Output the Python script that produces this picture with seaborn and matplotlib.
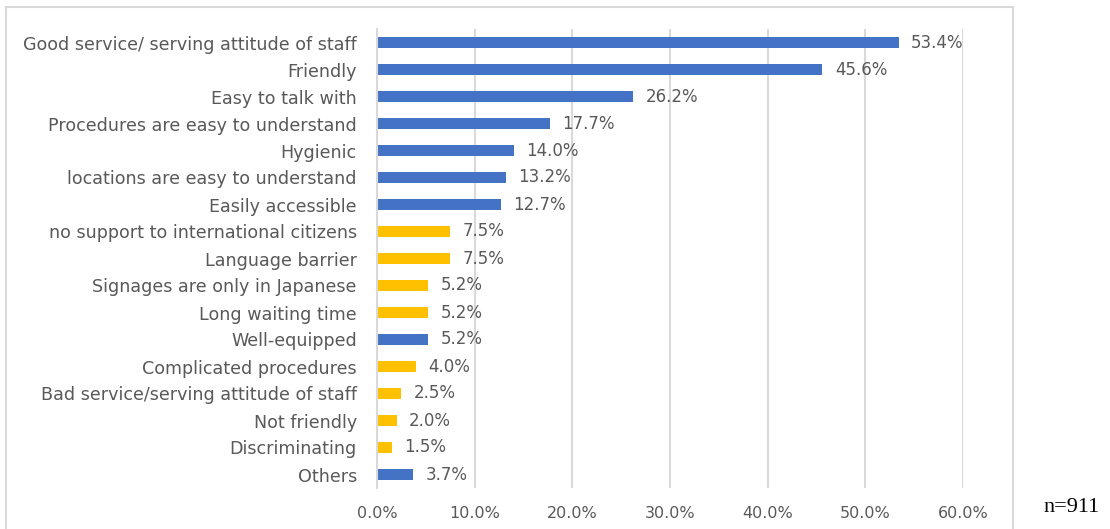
import matplotlib
matplotlib.use("Agg")
import matplotlib.pyplot as plt
import seaborn as sns
import pandas as pd
from matplotlib.patches import Rectangle
from matplotlib.ticker import FuncFormatter

categories = [
    "Good service/ serving attitude of staff",
    "Friendly",
    "Easy to talk with",
    "Procedures are easy to understand",
    "Hygienic",
    "locations are easy to understand",
    "Easily accessible",
    "no support to international citizens",
    "Language barrier",
    "Signages are only in Japanese",
    "Long waiting time",
    "Well-equipped",
    "Complicated procedures",
    "Bad service/serving attitude of staff",
    "Not friendly",
    "Discriminating",
    "Others",
]
values = [53.4, 45.6, 26.2, 17.7, 14.0, 13.2, 12.7, 7.5, 7.5, 5.2, 5.2, 5.2, 4.0, 2.5, 2.0, 1.5, 3.7]
kinds = ["pos", "pos", "pos", "pos", "pos", "pos", "pos", "neg", "neg", "neg", "neg",
         "pos", "neg", "neg", "neg", "neg", "pos"]
x_ticks = [0, 10, 20, 30, 40, 50, 60]

df = pd.DataFrame({"category": categories, "value": values, "kind": kinds})

sns.set_style("white")
plt.rcParams["font.family"] = ["DejaVu Sans"]

fig = plt.figure(figsize=(11.10, 5.29), dpi=100)
ax = fig.add_axes([377 / 1110, 1 - 488 / 529, (963 - 377) / 1110, (488 - 29) / 529])

palette = {"pos": "#4472C4", "neg": "#FFC000"}
sns.barplot(data=df, x="value", y="category", hue="kind", palette=palette,
            dodge=False, width=0.38, legend=False, ax=ax, saturation=1, orient="h",
            linewidth=0)

grey = "#595959"
ax.set_xlim(0, 60)
ax.set_xticks(x_ticks)
ax.xaxis.set_major_formatter(FuncFormatter(lambda v, p: f"{v:.1f}%"))
ax.grid(axis="x", color="#D9D9D9", linewidth=1.5)
ax.set_axisbelow(True)
for s in ["top", "right", "bottom"]:
    ax.spines[s].set_visible(False)
ax.spines["left"].set_color("#D9D9D9")
ax.spines["left"].set_linewidth(1.5)
ax.tick_params(axis="y", length=0, colors=grey, labelsize=12.6, pad=14.5)
ax.tick_params(axis="x", length=0, colors=grey, labelsize=11.5, pad=13)
ax.set_xlabel("")
ax.set_ylabel("")

for cont in ax.containers:
    ax.bar_label(cont, labels=[f"{v:.1f}%" if v == v and v > 0 else "" for v in cont.datavalues],
                 padding=9, color=grey, fontsize=12)

border = Rectangle((6 / 1110, -0.05), (1013 - 6) / 1110, 1 - 7 / 529 + 0.05,
                   transform=fig.transFigure, fill=False, edgecolor="#D9D9D9",
                   linewidth=1.5, clip_on=False)
fig.patches.append(border)

fig.text(1043 / 1110, 1 - 507 / 529, "n=911", fontfamily="Liberation Serif",
         fontsize=16, color="black", va="center", ha="left")

fig.savefig("out.png", dpi=100)
